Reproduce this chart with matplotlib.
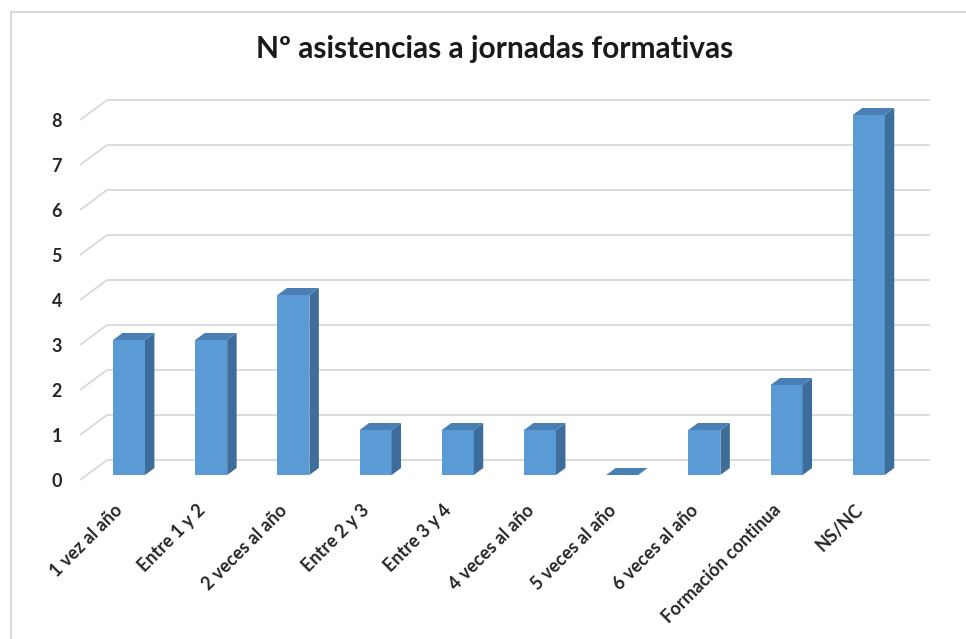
import matplotlib
matplotlib.use("Agg")
import matplotlib.pyplot as plt
import matplotlib.transforms as mtransforms
from matplotlib.patches import Polygon
from matplotlib.lines import Line2D

# Data
categories = ["1 vez al año", "Entre 1 y 2", "2 veces al año", "Entre 2 y 3",
              "Entre 3 y 4", "4 veces al año", "5 veces al año", "6 veces al año",
              "Formación continua", "NS/NC"]
values = [3, 3, 4, 1, 1, 1, 0, 1, 2, 8]
y_ticks = [0, 1, 2, 3, 4, 5, 6, 7, 8]
title = "Nº asistencias a jornadas formativas"

plt.rcParams["font.family"] = ["Lato", "DejaVu Sans"]

W, H = 966, 639
fig = plt.figure(figsize=(W / 100, H / 100), dpi=100)
fig.patch.set_facecolor("white")

# Axes placed in pixel units
ax_l, ax_r, ax_t, ax_b = 80, 950, 90, 492
ax = fig.add_axes([ax_l / W, 1 - ax_b / H, (ax_r - ax_l) / W, (ax_b - ax_t) / H])

# Data <-> pixel scale used for the oblique projection
px_per_cat = 82.2
px_per_unit = 45.0
x0_px = 122.25           # category 0 at the front plane
y0_px = 480.0            # value 0 at the front plane
ax.set_xlim((ax_l - x0_px) / px_per_cat, (ax_r - x0_px) / px_per_cat)
ax.set_ylim((y0_px - ax_b) / px_per_unit, (y0_px - ax_t) / px_per_unit)

# depth offset (front -> back) in data units
DX = 27 / px_per_cat
DY = 20 / px_per_unit


def proj(x, v, d):
    return (x + d * DX, v + d * DY)


# Walls / gridlines
x_left = (80 - x0_px) / px_per_cat
x_right = (930 - 27 - x0_px) / px_per_cat
grid_col = "#d9d9d9"
for v in y_ticks:
    a = proj(x_left, v, 0)
    b = proj(x_left, v, 1)
    c = proj(x_right, v, 1)
    ax.plot([a[0], b[0], c[0]], [a[1], b[1], c[1]], color=grid_col, lw=1.3,
            zorder=1, solid_capstyle="butt")

# 3D-looking columns
front_col = "#5b9bd5"
side_col = "#3d6d9b"
top_col = "#4a7fb5"
half_w = 16 / px_per_cat
d_front, d_back = 0.25, 0.6
for i, v in enumerate(values):
    xl, xr = i - half_w, i + half_w
    front = [proj(xl, 0, d_front), proj(xr, 0, d_front),
             proj(xr, v, d_front), proj(xl, v, d_front)]
    side = [proj(xr, 0, d_front), proj(xr, 0, d_back),
            proj(xr, v, d_back), proj(xr, v, d_front)]
    top = [proj(xl, v, d_front), proj(xr, v, d_front),
           proj(xr, v, d_back), proj(xl, v, d_back)]
    if v > 0:
        ax.add_patch(Polygon(front, closed=True, facecolor=front_col,
                             edgecolor="none", zorder=3))
        ax.add_patch(Polygon(side, closed=True, facecolor=side_col,
                             edgecolor="none", zorder=3))
    ax.add_patch(Polygon(top, closed=True, facecolor=top_col,
                         edgecolor="none", zorder=3))

# Axis labels
ax.set_yticks(y_ticks)
ax.set_yticklabels([str(t) for t in y_ticks], fontsize=13, fontweight="bold",
                   color="#262626")
ax.tick_params(axis="y", length=0, pad=13)

ax.set_xticks(range(len(categories)))
ax.set_xticklabels(categories, fontsize=13, fontweight="bold", color="#262626")
ax.tick_params(axis="x", length=0, pad=11)
shift = mtransforms.ScaledTranslation(-2 / 100, 0, fig.dpi_scale_trans)
for lab in ax.get_xticklabels():
    lab.set_rotation(45)
    lab.set_ha("right")
    lab.set_va("center")
    lab.set_rotation_mode("anchor")
    lab.set_transform(lab.get_transform() + shift)

for s in ax.spines.values():
    s.set_visible(False)
ax.set_facecolor("none")

# Title
fig.text(495 / W, 1 - 58 / H, title, ha="center", va="baseline",
         fontsize=21.5, fontweight="bold", color="#1a1a1a")

# Chart frame
fig.add_artist(Line2D([11 / W, 11 / W], [0, 1 - 12 / H], transform=fig.transFigure,
                      color="#d9d9d9", lw=1.5))
fig.add_artist(Line2D([11 / W, 1], [1 - 12 / H, 1 - 12 / H], transform=fig.transFigure,
                      color="#d9d9d9", lw=1.5))

fig.savefig("out.png", dpi=100)
